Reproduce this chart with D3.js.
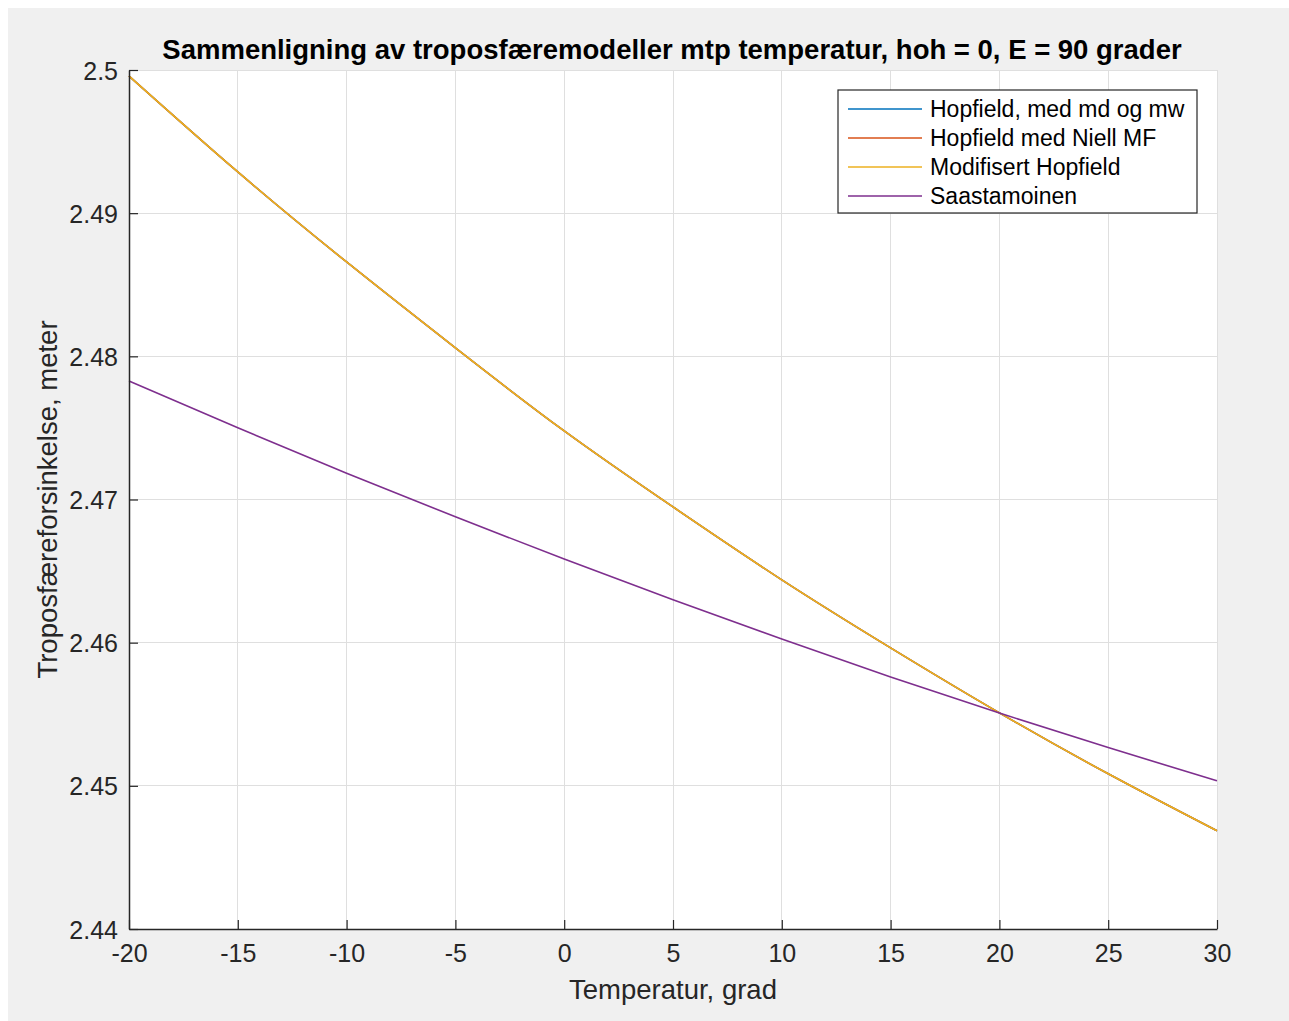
<!DOCTYPE html>
<html>
<head>
<meta charset="utf-8">
<script src="https://cdn.jsdelivr.net/npm/d3@7"></script>
<style>
  html, body { margin: 0; padding: 0; background: #ffffff; }
  svg { display: block; }
  text { font-family: "Liberation Sans", Arial, Helvetica, sans-serif; }
</style>
</head>
<body>
<svg id="chart" width="1289" height="1021"></svg>
<script>
// Temperature grid (degrees C)
const temperatures = [-20, -15, -10, -5, 0, 5, 10, 15, 20, 25, 30];

// Zenith tropospheric delay (m) for each model
const hopfieldMdMw   = [2.49958, 2.49288, 2.48659, 2.48059, 2.47479, 2.46948, 2.46439, 2.45964, 2.45510, 2.45084, 2.44686];
const hopfieldNiell  = [2.49958, 2.49288, 2.48659, 2.48059, 2.47479, 2.46948, 2.46439, 2.45964, 2.45510, 2.45084, 2.44686];
const modHopfield    = [2.49958, 2.49288, 2.48659, 2.48059, 2.47479, 2.46948, 2.46439, 2.45964, 2.45510, 2.45084, 2.44686];
const saastamoinen   = [2.47828, 2.47501, 2.47184, 2.46879, 2.46584, 2.46299, 2.46025, 2.45761, 2.45508, 2.45267, 2.45035];

const seriesNames = ["Hopfield, med md og mw", "Hopfield med Niell MF", "Modifisert Hopfield", "Saastamoinen"];
const seriesColors = ["#0072BD", "#D95319", "#EDB120", "#7E2F8E"];
const seriesValues = [hopfieldMdMw, hopfieldNiell, modHopfield, saastamoinen];

const xTicks = [-20, -15, -10, -5, 0, 5, 10, 15, 20, 25, 30];
const yTicks = [2.44, 2.45, 2.46, 2.47, 2.48, 2.49, 2.5];

const svg = d3.select("#chart");
const W = 1289, H = 1021;

// figure background
svg.append("rect").attr("x", 0).attr("y", 0).attr("width", W).attr("height", H).attr("fill", "#ffffff");
svg.append("rect").attr("x", 8).attr("y", 8).attr("width", W - 8).attr("height", H - 8).attr("fill", "#f0f0f0");

const plot = { left: 129, right: 1217, top: 70, bottom: 929 };

const x = d3.scaleLinear().domain([-20, 30]).range([plot.left, plot.right]);
const y = d3.scaleLinear().domain([2.44, 2.5]).range([plot.bottom, plot.top]);

// axes area
svg.append("rect")
  .attr("x", plot.left).attr("y", plot.top)
  .attr("width", plot.right - plot.left).attr("height", plot.bottom - plot.top)
  .attr("fill", "#ffffff");

// grid
const grid = svg.append("g").attr("stroke", "#dfdfdf").attr("stroke-width", 1).attr("shape-rendering", "crispEdges");
xTicks.forEach(t => grid.append("line")
  .attr("x1", x(t)).attr("x2", x(t)).attr("y1", plot.top).attr("y2", plot.bottom));
yTicks.forEach(t => grid.append("line")
  .attr("x1", plot.left).attr("x2", plot.right).attr("y1", y(t)).attr("y2", y(t)));

// data lines
const line = d3.line()
  .x((d, i) => x(temperatures[i]))
  .y(d => y(d))
  .curve(d3.curveNatural);

seriesValues.forEach((vals, k) => {
  svg.append("path")
    .datum(vals)
    .attr("d", line)
    .attr("fill", "none")
    .attr("stroke", seriesColors[k])
    .attr("stroke-width", 1.6);
});

// axes (ticks pointing inward)
const axisColor = "#262626";
const xAxis = svg.append("g")
  .attr("transform", `translate(0,${plot.bottom})`)
  .call(d3.axisBottom(x).tickValues(xTicks).tickSizeInner(-9).tickSizeOuter(0).tickPadding(15).tickFormat(d => String(d)));
const yAxis = svg.append("g")
  .attr("transform", `translate(${plot.left},0)`)
  .call(d3.axisLeft(y).tickValues(yTicks).tickSizeInner(-9).tickSizeOuter(0).tickPadding(11).tickFormat(d => String(+d.toFixed(2))));

[xAxis, yAxis].forEach(a => {
  a.select(".domain").attr("stroke", axisColor).attr("stroke-width", 1.5);
  a.selectAll(".tick line").attr("stroke", axisColor).attr("stroke-width", 1.2);
  a.selectAll(".tick text").attr("fill", axisColor).attr("font-size", 25);
});
xAxis.selectAll(".tick text").attr("dy", "0.71em");
yAxis.selectAll(".tick text").attr("dy", "0.36em");

// title
svg.append("text")
  .attr("x", 672)
  .attr("y", 59)
  .attr("text-anchor", "middle")
  .attr("font-size", 27.5)
  .attr("font-weight", "bold")
  .attr("fill", "#000")
  .text("Sammenligning av troposfæremodeller mtp temperatur, hoh = 0, E = 90 grader");

// axis labels
svg.append("text")
  .attr("x", (plot.left + plot.right) / 2)
  .attr("y", 999)
  .attr("text-anchor", "middle")
  .attr("font-size", 27.5)
  .attr("fill", axisColor)
  .text("Temperatur, grad");

svg.append("text")
  .attr("transform", `translate(57,${(plot.top + plot.bottom) / 2}) rotate(-90)`)
  .attr("text-anchor", "middle")
  .attr("font-size", 27.5)
  .attr("fill", axisColor)
  .text("Troposfæreforsinkelse, meter");

// legend
const legend = svg.append("g");
legend.append("rect")
  .attr("x", 838).attr("y", 90).attr("width", 359).attr("height", 123)
  .attr("fill", "#ffffff").attr("stroke", "#262626").attr("stroke-width", 1.2);
seriesNames.forEach((name, k) => {
  const ly = 109 + k * 29;
  legend.append("line")
    .attr("x1", 848).attr("x2", 922).attr("y1", ly).attr("y2", ly)
    .attr("stroke", seriesColors[k]).attr("stroke-width", 1.6);
  legend.append("text")
    .attr("x", 930).attr("y", ly).attr("dy", "0.36em")
    .attr("font-size", 23).attr("fill", "#000")
    .text(name);
});
</script>
</body>
</html>
